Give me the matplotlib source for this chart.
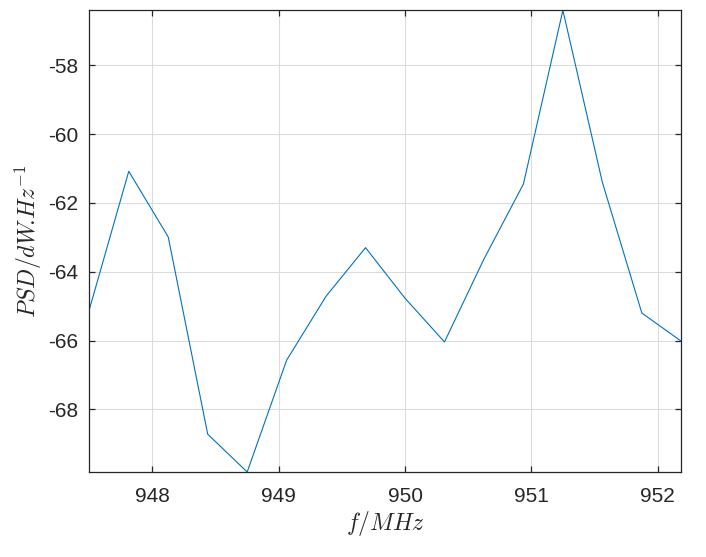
import numpy as np
import matplotlib.pyplot as plt

# frequency (MHz) and PSD values
freq = [947.5, 947.8125, 948.125, 948.4375, 948.75, 949.0625, 949.375, 949.6875,
        950.0, 950.3125, 950.625, 950.9375, 951.25, 951.5625, 951.875, 952.1875]
psd = [-65.10, -61.08, -62.99, -68.72, -69.82, -66.57, -64.71, -63.30,
       -64.77, -66.04, -63.63, -61.45, -56.40, -61.40, -65.20, -66.02]

xticks = [948, 949, 950, 951, 952]
yticks = [-68, -66, -64, -62, -60, -58]

plt.rcParams['font.family'] = ['Liberation Sans', 'DejaVu Sans']
plt.rcParams['mathtext.fontset'] = 'cm'

fig = plt.figure(figsize=(7.06, 5.57), dpi=100)
ax = fig.add_axes([0.1265, 0.1526, 0.8385, 0.829])

ax.plot(freq, psd, color='#0072BD', lw=0.8)

ax.set_xlim(min(freq), max(freq))
ax.set_ylim(min(psd), max(psd))
ax.set_xticks(xticks)
ax.set_yticks(yticks)
ax.set_xticklabels([str(t) for t in xticks])
ax.set_yticklabels([str(t) for t in yticks])

ax.grid(True, color='#dcdcdc', lw=0.8)
ax.set_axisbelow(True)
ax.tick_params(direction='in', length=4.3, width=0.9, labelsize=15,
               colors='#262626', top=True, right=True, pad=8)
ax.tick_params(axis='x', pad=11)
for s in ax.spines.values():
    s.set_color('#262626')
    s.set_linewidth(0.9)

ax.set_xlabel(r'$f/MHz$', fontsize=17, color='#262626', labelpad=2)
ax.set_ylabel(r'$PSD/dW\!.\!Hz^{-1}$', fontsize=17, color='#262626', labelpad=3)

fig.savefig('out.png', dpi=100)
